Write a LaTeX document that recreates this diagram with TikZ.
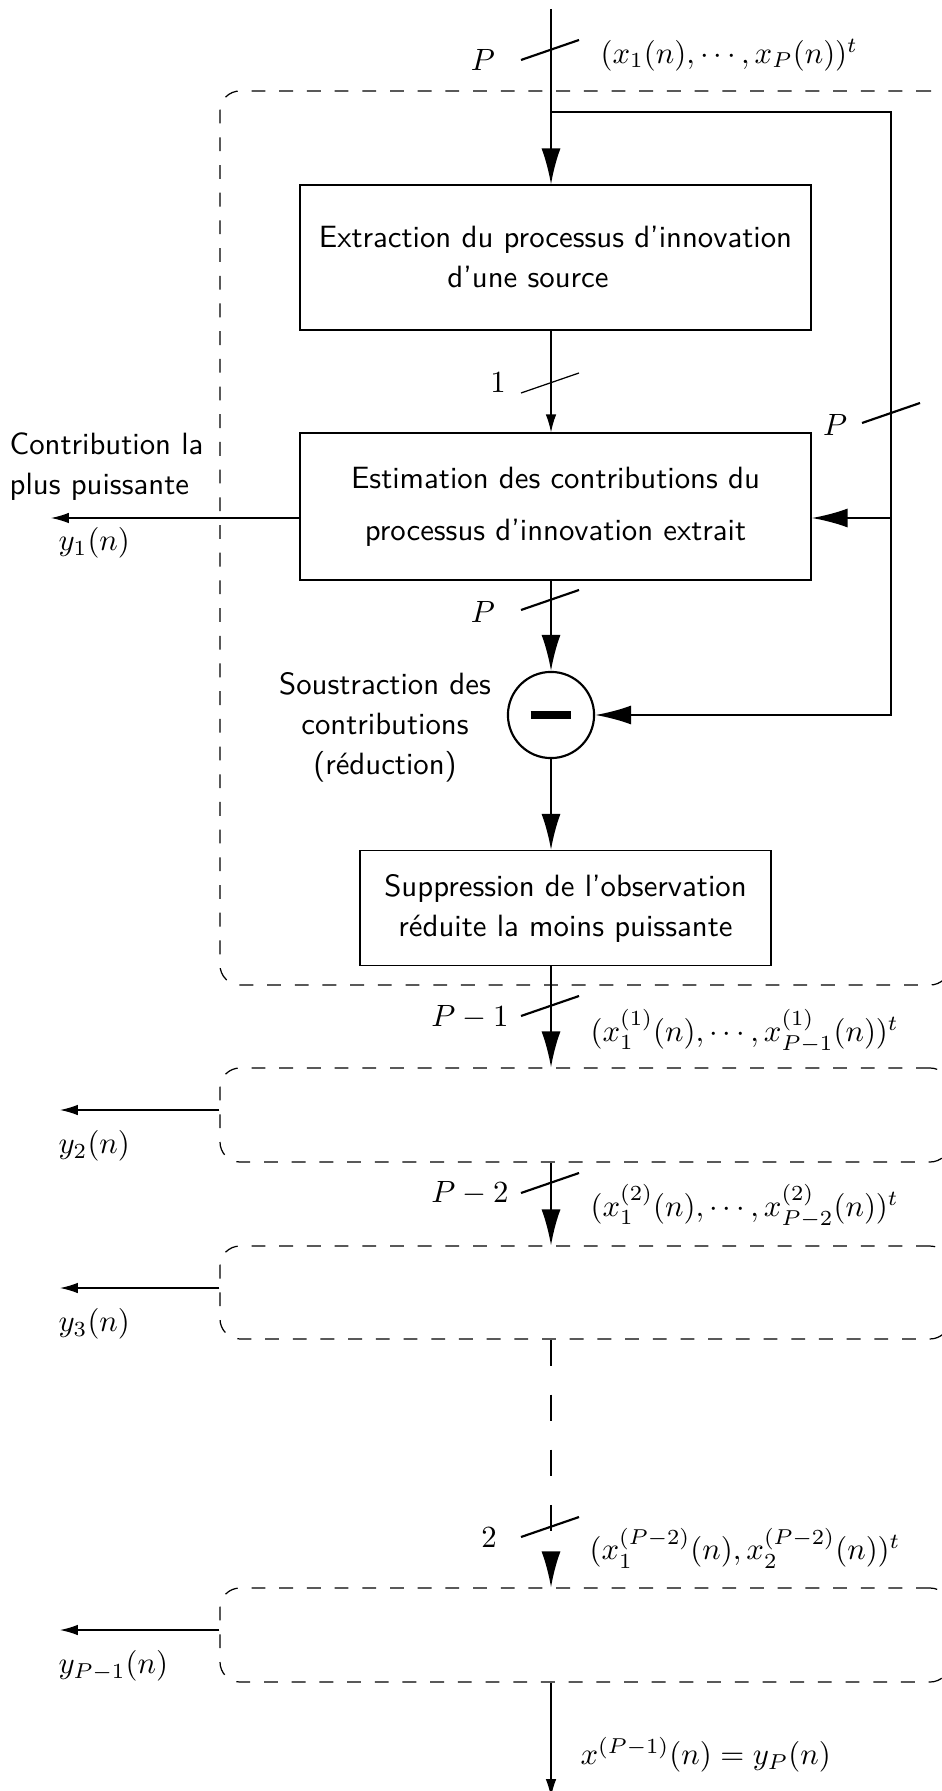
\documentclass[tikz,border=0pt]{standalone}
\usepackage{fontspec}
\usetikzlibrary{arrows.meta}

\tikzset{every picture/.style={line width=0.4pt}}
\tikzset{
  bloc/.style={draw, align=center, inner sep=0pt, font=\sffamily\fontsize{10}{13}\selectfont},
  etage/.style={draw, dash pattern=on 4.5pt off 4.5pt, rounded corners=6.5pt, inner sep=0pt, minimum width=237.25pt},
  fort/.style={line width=0.7pt},
  grande/.style={-{Latex[length=11.7pt,width=6.2pt]}},
  petite/.style={-{Latex[length=5.8pt,width=3.4pt]}},
  lbl/.style={inner sep=0pt, font=\fontsize{10}{12}\selectfont},
  txt/.style={inner sep=0pt, font=\sffamily\fontsize{10}{13}\selectfont},
}

\begin{document}
\begin{tikzpicture}[x=0.325pt,y=0.325pt,yscale=-1,xscale=1]
\useasboundingbox (0,0) rectangle (941,1791);

%Shape: Rounded Rect (first stage)
\node[etage, minimum height=290.55pt] (etage1) at (585,538) {};
%Shape: Rounded Rect (next stages)
\node[etage, minimum height=30.55pt] (etage2) at (585,1115) {};
\node[etage, minimum height=30.2pt] (etage3) at (585,1292.5) {};
\node[etage, minimum height=30.55pt] (etage4) at (585,1635) {};

%Shape: Rectangle [extraction]
\node[bloc, minimum width=166.1pt, minimum height=47.1pt] (extr) at (555.5,257.5) {Extraction du processus d'innovation\\d'une source\hspace*{17.9pt}};
%Shape: Rectangle [estimation]
\node[bloc, minimum width=166.1pt, minimum height=47.8pt] (estim) at (555.5,506.5) {Estimation des contributions du\\[4pt]processus d'innovation extrait};
%Shape: Circle [soustraction]
\node[draw, circle, fort, minimum size=28pt, inner sep=0pt] (sous) at (551,715) {\rule[-1.15pt]{13.3pt}{2.3pt}};
%Shape: Rectangle [suppression]
\node[bloc, minimum width=133.6pt, minimum height=37.4pt] (suppr) at (565.5,908) {Suppression de l'observation\\réduite la moins puissante};

\coordinate (entree) at (551,9);
\coordinate (piquage) at (551,112);
\coordinate (retour) at (891,715);
\coordinate (derivation) at (891,518);
\coordinate (sortie) at (551,1797);
\coordinate (y1fin) at (51,518);
\coordinate (y2fin) at (60,1110);
\coordinate (y3fin) at (60,1288);
\coordinate (y4fin) at (60,1630);

%Straight Lines
\draw[fort, grande] (entree) -- (entree |- extr.north);
\draw[fort, grande] (piquage) -| (retour) -- (sous.east);
\draw[fort, grande] (derivation) -- (derivation -| estim.east);
\draw[petite] (extr.south -| entree) -- (estim.north -| entree);
\draw[petite] (derivation -| estim.west) -- (y1fin);
\draw[fort, grande] (estim.south -| entree) -- (sous.north);
\draw[fort, grande] (sous.south) -- (sous.south |- suppr.north);
\draw[fort, grande] (suppr.south -| entree) -- (etage2.north -| entree);
\draw[petite] (y2fin -| etage2.west) -- (y2fin);
\draw[fort, grande] (etage2.south -| entree) -- (etage3.north -| entree);
\draw[petite] (y3fin -| etage3.west) -- (y3fin);
\draw[fort, grande, dash pattern=on 8.5pt off 9.4pt] (etage3.south -| entree) -- (etage4.north -| entree);
\draw[petite] (y4fin -| etage4.west) -- (y4fin);
\draw[petite] (etage4.south -| entree) -- (sortie);

%Straight Lines [bus marks]
\draw[fort] (550,50) ++(-29,10) -- ++(58,-20);
\draw (550,383) ++(-29,10) -- ++(58,-20);
\draw[fort] (891,413) ++(-29,10) -- ++(58,-20);
\draw[fort] (550,600) ++(-29,10) -- ++(58,-20);
\draw[fort] (550,1006) ++(-29,10) -- ++(58,-20);
\draw[fort] (550,1183) ++(-29,10) -- ++(58,-20);
\draw[fort] (550,1527) ++(-29,10) -- ++(58,-20);

% Text Node
\node[lbl] (nP0) at (483,60) {$P$};
% Text Node
\node[lbl] (n1) at (498,383) {$1$};
% Text Node
\node[lbl] (nPr) at (835,425) {$P$};
% Text Node
\node[lbl] (nP2) at (483,612) {$P$};
% Text Node
\node[lbl] (nPm1) at (470,1017) {$P-1$};
% Text Node
\node[lbl] (nPm2) at (470,1193) {$P-2$};
% Text Node
\node[lbl] (n2) at (489,1538) {$2$};

% Text Node
\node[lbl, anchor=west] (vx0) at (600,55) {$(x_1(n),\cdots,x_P(n))^t$};
% Text Node
\node[lbl, anchor=west] (vx1) at (590,1031) {$(x_1^{(1)}(n),\cdots,x_{P-1}^{(1)}(n))^t$};
% Text Node
\node[lbl, anchor=west] (vx2) at (590,1206) {$(x_1^{(2)}(n),\cdots,x_{P-2}^{(2)}(n))^t$};
% Text Node
\node[lbl, anchor=west] (vxq) at (589,1548) {$(x_1^{(P-2)}(n),x_2^{(P-2)}(n))^t$};
% Text Node
\node[lbl, anchor=west] (vxf) at (580,1755) {$x^{(P-1)}(n)=y_P(n)$};

% Text Node
\node[txt, anchor=west, align=left] (contrib) at (9,467) {Contribution la\\plus puissante};
% Text Node
\node[txt, align=center] (soustr) at (385,727) {Soustraction des\\contributions\\(réduction)};
% Text Node
\node[lbl, anchor=west] (y1) at (58,543) {$y_1(n)$};
% Text Node
\node[lbl, anchor=west] (y2) at (58,1146) {$y_2(n)$};
% Text Node
\node[lbl, anchor=west] (y3) at (58,1324) {$y_3(n)$};
% Text Node
\node[lbl, anchor=west] (y4) at (58,1666) {$y_{P-1}(n)$};

\end{tikzpicture}
\end{document}
